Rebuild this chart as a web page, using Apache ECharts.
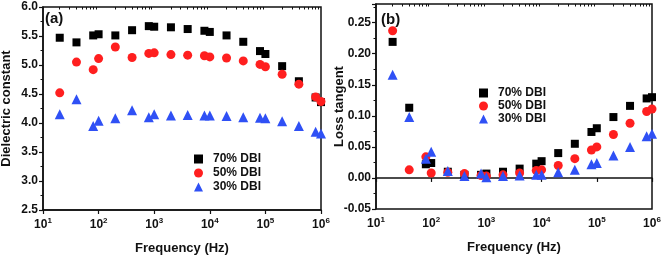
<!DOCTYPE html>
<html><head><meta charset="utf-8">
<script src="https://cdn.jsdelivr.net/npm/echarts@6/dist/echarts.min.js"></script>
<style>html,body{margin:0;padding:0;background:#fff}#c{width:661px;height:255px}</style>
</head><body><div id="c"></div>
<script>
const freqs = [20,40,80,100,200,400,800,1000,2000,4000,8000,10000,20000,40000,80000,100000,200000,400000,800000,1000000];
const seriesNames = ['70% DBI','50% DBI','30% DBI'];
const eps70 = [5.47,5.39,5.51,5.53,5.51,5.60,5.67,5.66,5.65,5.62,5.59,5.57,5.51,5.40,5.24,5.19,4.98,4.72,4.44,4.36];
const eps50 = [4.52,5.05,4.92,5.11,5.31,5.13,5.20,5.21,5.18,5.17,5.16,5.14,5.12,5.07,5.01,4.97,4.84,4.67,4.45,4.37];
const eps30 = [4.15,4.41,3.95,4.04,4.08,4.22,4.10,4.15,4.13,4.14,4.13,4.13,4.12,4.10,4.09,4.08,4.03,3.95,3.85,3.82];
const tan70 = [0.219,0.113,0.022,0.024,0.010,0.005,0.005,0.007,0.010,0.015,0.023,0.027,0.040,0.055,0.074,0.080,0.098,0.116,0.128,0.130];
const tan50 = [0.237,0.013,0.034,0.008,0.009,0.007,0.004,0.003,0.005,0.008,0.012,0.013,0.020,0.031,0.045,0.050,0.070,0.088,0.107,0.111];
const tan30 = [0.166,0.098,0.031,0.042,0.011,0.003,0.007,0.001,0.003,0.004,0.005,0.005,0.009,0.013,0.022,0.024,0.036,0.050,0.067,0.071];
const epsTicks = [2.5,6.0,0.5];
const tanTicks = [-0.05,0.28,0.05];
const minorFreqs = [];
for (let d = 10; d < 1e6; d *= 10) for (let k = 2; k <= 9; k++) minorFreqs.push(k * d);

const FONT = 'Liberation Sans';
const colors = ['#000000','#ff1f1f','#2f50f5'];
const symbols = ['rect','circle','triangle'];
const sizes = [8,9,10];

function xAxes(gi){
  return [{
    type:'log', gridIndex:gi, min:10, max:1e6, logBase:10,
    name:'Frequency (Hz)', nameLocation:'middle', nameGap:32, nameMoveOverlap:false,
    nameTextStyle:{fontFamily:FONT,fontWeight:'bold',fontSize:13,color:'#111'},
    axisLine:{lineStyle:{color:'#111',width:1.5}},
    axisTick:{length:4,lineStyle:{color:'#111',width:1.2}},
    splitLine:{show:false},
    axisLabel:{margin:7,fontFamily:FONT,fontWeight:'bold',fontSize:12,color:'#111',
      formatter:v=>'10{s|'+Math.round(Math.log10(v))+'}',
      rich:{s:{fontFamily:FONT,fontWeight:'bold',fontSize:8,color:'#111',padding:[0,0,7,0]}}}
  },{
    type:'log', gridIndex:gi, min:10, max:1e6, logBase:10,
    axisLine:{show:false}, splitLine:{show:false}, axisLabel:{show:false},
    axisTick:{show:true,inside:true,length:2.5,customValues:minorFreqs,lineStyle:{color:'#111',width:1}}
  }];
}
function yAxis(gi, t, dec, name, gap){
  return {
    type:'value', gridIndex:gi, min:t[0], max:t[1], interval:t[2],
    name:name, nameLocation:'middle', nameGap:gap, nameMoveOverlap:false,
    nameTextStyle:{fontFamily:FONT,fontWeight:'bold',fontSize:13,color:'#111'},
    axisLine:{show:true,lineStyle:{color:'#111',width:1.5}},
    axisTick:{length:4,lineStyle:{color:'#111',width:1.2}},
    minorTick:{show:true,splitNumber:2,length:2.5,lineStyle:{color:'#111',width:1}},
    splitLine:{show:false},
    axisLabel:{margin:5,showMinLabel:true,showMaxLabel: Math.abs(Math.round(t[1]/t[2])*t[2]-t[1])<1e-9,
      fontFamily:FONT,fontWeight:'bold',fontSize:12,color:'#111',formatter:v=>v.toFixed(dec)}
  };
}
function mk(vals){ return freqs.map((f,i)=>[f, vals[i]]); }
const leftData = [eps70,eps50,eps30], rightData = [tan70,tan50,tan30];
const series = [];
[leftData,rightData].forEach((arrs,gi)=>{
  arrs.forEach((vals,i)=>{
    series.push({type:'scatter',name:seriesNames[i],xAxisIndex:gi*2,yAxisIndex:gi,
      data:mk(vals),symbol:symbols[i],symbolSize:sizes[i],itemStyle:{color:colors[i],opacity:1},
      emphasis:{disabled:true},z:2+i});
  });
});
function legend(left, top, gap){
  return {left:left,top:top,orient:'vertical',itemWidth:9,itemHeight:9,itemGap:gap,
    textStyle:{fontFamily:FONT,fontWeight:'bold',fontSize:12,color:'#111',padding:[0,0,0,5]},
    data:seriesNames.map((n,i)=>({name:n,icon:symbols[i]})), selectedMode:false};
}
const chart = echarts.init(document.getElementById('c'),null,{renderer:'canvas'});
chart.setOption({
  animation:false,
  backgroundColor:'#fff',
  grid:[
    {left:43,top:7,width:278,height:203,show:true,borderColor:'#111',borderWidth:1.5,containLabel:false,outerBoundsMode:'none'},
    {left:376,top:4,width:276,height:205,show:true,borderColor:'#111',borderWidth:1.5,containLabel:false,outerBoundsMode:'none'}
  ],
  title:[
    {text:'(a)',left:45,top:11,textStyle:{fontFamily:FONT,fontWeight:'bold',fontSize:15,color:'#111'},padding:0},
    {text:'(b)',left:381,top:12,textStyle:{fontFamily:FONT,fontWeight:'bold',fontSize:15,color:'#111'},padding:0}
  ],
  legend:[ legend(189,148,2), legend(474,82,1) ],
  xAxis:[...xAxes(0),...xAxes(1)],
  yAxis:[yAxis(0,epsTicks,1,'Dielectric constant',30), yAxis(1,tanTicks,2,'Loss tangent',30)],
  series:series
});
</script></body></html>
